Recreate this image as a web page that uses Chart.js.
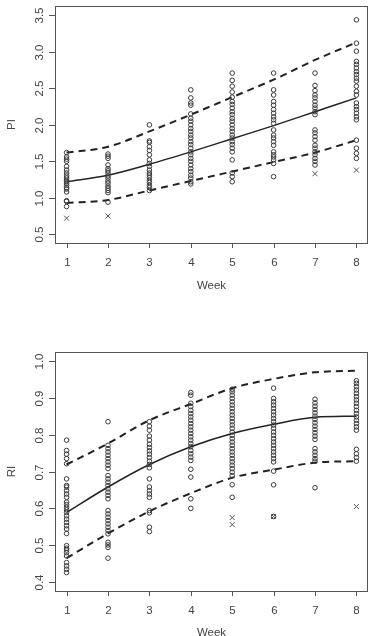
<!DOCTYPE html>
<html>
<head>
<meta charset="utf-8">
<script src="https://cdn.jsdelivr.net/npm/chart.js@4/dist/chart.umd.min.js"></script>
<style>
  html, body { margin: 0; padding: 0; background: #fff; }
  #wrap { position: relative; width: 373px; height: 636px; overflow: hidden; }
  canvas { position: absolute; left: 0; }
</style>
</head>
<body>
<div id="wrap">
  <canvas id="piChart" width="373" height="300" style="top:0"></canvas>
  <canvas id="riChart" width="373" height="336" style="top:300px"></canvas>
</div>
<script>
const weeks = [1, 2, 3, 4, 5, 6, 7, 8];

// PI observations per week (circles)
const piObs = [
  [1.62,1.56,1.53,1.50,1.43,1.38,1.34,1.30,1.27,1.24,1.22,1.20,1.17,1.14,1.12,1.08,0.96,0.95,0.88],
  [1.60,1.57,1.54,1.45,1.40,1.37,1.34,1.30,1.27,1.23,1.20,1.16,1.13,1.10,1.07,0.94],
  [2.00,1.78,1.76,1.70,1.65,1.59,1.52,1.47,1.43,1.38,1.34,1.31,1.28,1.24,1.21,1.17,1.14,1.10],
  [2.48,2.37,2.30,2.27,2.15,2.09,2.05,2.00,1.95,1.91,1.86,1.82,1.77,1.73,1.68,1.63,1.59,1.54,1.50,1.45,1.40,1.36,1.31,1.27,1.22,1.19],
  [2.71,2.61,2.53,2.45,2.38,2.32,2.28,2.23,2.18,2.14,2.09,2.05,2.00,1.95,1.91,1.86,1.82,1.77,1.73,1.68,1.63,1.52,1.34,1.29,1.22],
  [2.71,2.48,2.41,2.32,2.27,2.21,2.16,2.11,2.07,2.02,1.93,1.86,1.82,1.77,1.72,1.63,1.59,1.56,1.52,1.47,1.29],
  [2.71,2.54,2.47,2.41,2.37,2.32,2.27,2.23,2.18,2.14,1.93,1.89,1.84,1.79,1.72,1.68,1.63,1.59,1.54,1.50,1.45],
  [3.44,3.12,3.01,2.87,2.83,2.78,2.73,2.69,2.64,2.60,2.53,2.46,2.41,2.30,2.25,2.21,2.16,2.11,2.07,1.79,1.68,1.61,1.54]
];
// PI outliers (x marks)
const piOutWeek = [1, 2, 7, 8];
const piOutVal = [0.72, 0.75, 1.33, 1.38];
// PI fitted curve and bands
const piFit = [1.22, 1.31, 1.46, 1.63, 1.81, 1.99, 2.18, 2.37];
const piUpper = [1.62, 1.70, 1.91, 2.14, 2.38, 2.62, 2.89, 3.13];
const piLower = [0.93, 0.97, 1.10, 1.23, 1.36, 1.49, 1.62, 1.79];
const piTicks = [0.5, 1.0, 1.5, 2.0, 2.5, 3.0, 3.5];

// RI observations per week (circles)
const riObs = [
  [0.785,0.757,0.747,0.735,0.721,0.680,0.662,0.658,0.648,0.639,0.630,0.617,0.610,0.603,0.596,0.589,0.580,0.571,0.562,0.553,0.544,0.532,0.499,0.492,0.487,0.480,0.471,0.453,0.444,0.435,0.426],
  [0.835,0.771,0.762,0.753,0.744,0.735,0.726,0.717,0.708,0.689,0.680,0.671,0.662,0.653,0.644,0.635,0.626,0.594,0.585,0.576,0.567,0.558,0.549,0.540,0.531,0.508,0.501,0.494,0.465],
  [0.835,0.823,0.812,0.796,0.785,0.774,0.765,0.756,0.747,0.738,0.728,0.719,0.710,0.680,0.658,0.648,0.639,0.630,0.594,0.588,0.549,0.537],
  [0.914,0.907,0.885,0.876,0.866,0.857,0.848,0.839,0.830,0.821,0.812,0.803,0.794,0.785,0.776,0.767,0.757,0.748,0.739,0.730,0.706,0.685,0.626,0.600],
  [0.923,0.916,0.907,0.898,0.889,0.880,0.871,0.862,0.853,0.844,0.835,0.826,0.817,0.807,0.798,0.789,0.780,0.771,0.762,0.753,0.744,0.735,0.726,0.717,0.708,0.698,0.689,0.664,0.630],
  [0.926,0.898,0.889,0.880,0.871,0.862,0.853,0.844,0.835,0.826,0.817,0.807,0.798,0.789,0.780,0.771,0.762,0.753,0.744,0.735,0.726,0.701,0.664,0.578],
  [0.896,0.886,0.877,0.868,0.859,0.850,0.841,0.832,0.823,0.814,0.805,0.796,0.787,0.762,0.753,0.744,0.735,0.728,0.656],
  [0.946,0.939,0.930,0.921,0.912,0.903,0.894,0.885,0.876,0.866,0.857,0.848,0.839,0.830,0.821,0.812,0.760,0.748,0.738,0.728]
];
const riOutWeek = [5, 5, 6, 8];
const riOutVal = [0.575, 0.556, 0.578, 0.605];
const riFit = [0.589, 0.658, 0.719, 0.767, 0.803, 0.828, 0.847, 0.850];
const riUpper = [0.719, 0.776, 0.839, 0.883, 0.926, 0.951, 0.969, 0.973];
const riLower = [0.465, 0.532, 0.592, 0.641, 0.683, 0.705, 0.724, 0.728];
const riTicks = [0.4, 0.5, 0.6, 0.7, 0.8, 0.9, 1.0];

const INK = '#3a3a3a';
const TXT = '#444';
const FONT = '11.5px "Liberation Sans", Arial, sans-serif';

// R-style box, ticks and labels drawn from the chart's own scales
const rAxes = {
  id: 'rAxes',
  afterDraw(chart, args, opts) {
    const { ctx, chartArea: a, scales: { x, y } } = chart;
    ctx.save();
    ctx.strokeStyle = '#555';
    ctx.lineWidth = 1;
    ctx.strokeRect(a.left + 0.5, a.top + 0.5, a.right - a.left - 1, a.bottom - a.top);
    ctx.fillStyle = TXT;
    ctx.font = FONT;
    // x ticks
    ctx.textAlign = 'center';
    ctx.textBaseline = 'middle';
    weeks.forEach(w => {
      const px = Math.round(x.getPixelForValue(w)) + 0.5;
      ctx.beginPath(); ctx.moveTo(px, a.bottom); ctx.lineTo(px, a.bottom + 5); ctx.stroke();
      ctx.fillText(String(w), px, a.bottom + 20);
    });
    ctx.fillText('Week', (a.left + a.right) / 2, a.bottom + opts.titleGap);
    // y ticks
    opts.ticks.forEach(v => {
      const py = Math.round(y.getPixelForValue(v)) + 0.5;
      ctx.beginPath(); ctx.moveTo(a.left - 6, py); ctx.lineTo(a.left, py); ctx.stroke();
      ctx.save();
      ctx.translate(a.left - 15, py);
      ctx.rotate(-Math.PI / 2);
      ctx.fillText(v.toFixed(1), 0, 0);
      ctx.restore();
    });
    ctx.save();
    ctx.translate(12, (a.top + a.bottom) / 2);
    ctx.rotate(-Math.PI / 2);
    ctx.fillText(opts.label, 0, 0);
    ctx.restore();
    ctx.restore();
  }
};

function points(obs) {
  return obs.flatMap((vals, i) => vals.map(v => ({ x: weeks[i], y: v })));
}

function makeChart(id, obs, outW, outV, fit, upper, lower, yMin, yMax, pad, axisOpts) {
  const curve = (vals) => vals.map((v, i) => ({ x: weeks[i], y: v }));
  return new Chart(document.getElementById(id), {
    type: 'scatter',
    data: {
      datasets: [
        { // 관측값 - 원
          data: points(obs)
          ,pointStyle: 'circle'
          ,pointRadius: 2.3
          ,borderColor: INK
          ,backgroundColor: 'rgba(0,0,0,0)'
          ,borderWidth: 1
        },
        { // 이상값 - x
          data: outW.map((w, i) => ({ x: w, y: outV[i] }))
          ,pointStyle: 'crossRot'
          ,pointRadius: 3.5
          ,borderColor: '#555'
          ,borderWidth: 1
        },
        { type: 'line', data: curve(fit), borderColor: '#222', borderWidth: 1.5, pointRadius: 0, cubicInterpolationMode: 'monotone', fill: false },
        { type: 'line', data: curve(upper), borderColor: '#222', borderWidth: 2, borderDash: [7, 5], pointRadius: 0, cubicInterpolationMode: 'monotone', fill: false },
        { type: 'line', data: curve(lower), borderColor: '#222', borderWidth: 2, borderDash: [7, 5], pointRadius: 0, cubicInterpolationMode: 'monotone', fill: false }
      ]
    },
    options: {
      responsive: false,
      maintainAspectRatio: false,
      animation: false,
      events: [],
      layout: { padding: pad },
      plugins: { legend: { display: false }, tooltip: { enabled: false }, rAxes: axisOpts },
      scales: {
        x: { type: 'linear', min: 0.72, max: 8.28, display: false },
        y: { type: 'linear', min: yMin, max: yMax, display: false }
      }
    },
    plugins: [rAxes]
  });
}

makeChart('piChart', piObs, piOutWeek, piOutVal, piFit, piUpper, piLower, 0.38, 3.63,
  { left: 55, right: 4, top: 6, bottom: 57 },
  { ticks: piTicks, label: 'PI', titleGap: 43 });

makeChart('riChart', riObs, riOutWeek, riOutVal, riFit, riUpper, riLower, 0.376, 1.024,
  { left: 55, right: 4, top: 52, bottom: 45 },
  { ticks: riTicks, label: 'RI', titleGap: 42 });
</script>
</body>
</html>
